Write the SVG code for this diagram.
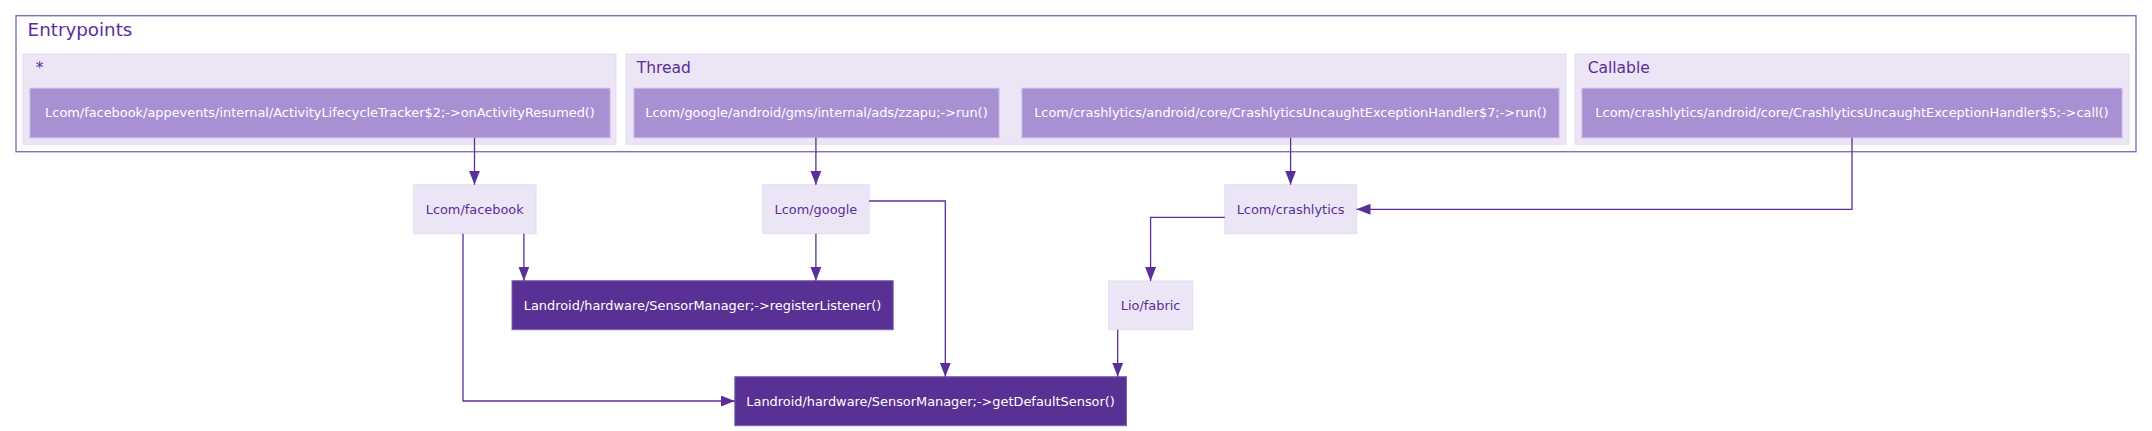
<svg xmlns="http://www.w3.org/2000/svg" width="2152" height="431" viewBox="0 0 2152 431">
<style>
text{font-family:"DejaVu Sans","Liberation Sans",sans-serif;}
.outer{fill:#ffffff;stroke:#8a6cbd;stroke-width:1.4;}
.cluster{fill:#ebe5f5;stroke:#e4dcf2;stroke-width:1;}
.clabel{font-size:15.5px;fill:#5a2e9a;}
.title{font-size:18.3px;fill:#5a2e9a;}
.entry{fill:#a990d3;stroke:#c4b3e3;stroke-width:1;}
.light{fill:#ebe5f5;stroke:#e4dcf2;stroke-width:1;}
.dark{fill:#593093;stroke:#7e5fb4;stroke-width:1;}
.wt{font-size:12.9px;fill:#ffffff;text-anchor:middle;}
.pt{font-size:12.9px;fill:#5a2e9a;text-anchor:middle;}
.edge{fill:none;stroke:#5b2f97;stroke-width:1.3;marker-end:url(#arr);}
</style>
<defs>
<marker id="arr" viewBox="0 0 14 11" refX="14" refY="5.5" markerWidth="14" markerHeight="11" markerUnits="userSpaceOnUse" orient="auto">
<path d="M0,0 L14,5.5 L0,11 z" fill="#5b2f97"/>
</marker>
</defs>
<rect width="2152" height="431" fill="#ffffff"/>
<g id="cluster_entrypoints">
<rect class="outer" x="16" y="15.7" width="2120" height="136"/>
<text class="title" x="27.6" y="35.5">Entrypoints</text>
</g>
<g id="cluster_star">
<rect class="cluster" x="23" y="54" width="593" height="90.3"/>
<text class="clabel" x="35.8" y="72.7">*</text>
</g>
<g id="cluster_thread">
<rect class="cluster" x="626" y="54" width="940" height="90.3"/>
<text class="clabel" x="636.7" y="72.7">Thread</text>
</g>
<g id="cluster_callable">
<rect class="cluster" x="1575" y="54" width="554" height="90.3"/>
<text class="clabel" x="1587.7" y="72.7">Callable</text>
</g>
<g id="node_fb_entry">
<rect class="entry" x="30" y="88.3" width="580" height="49.4"/>
<text class="wt" x="320" y="117">Lcom/facebook/appevents/internal/ActivityLifecycleTracker$2;-&gt;onActivityResumed()</text>
</g>
<g id="node_google_entry">
<rect class="entry" x="634" y="88.3" width="365" height="49.4"/>
<text class="wt" x="816.5" y="117">Lcom/google/android/gms/internal/ads/zzapu;-&gt;run()</text>
</g>
<g id="node_crash7_entry">
<rect class="entry" x="1022" y="88.3" width="537" height="49.4"/>
<text class="wt" x="1290.5" y="117">Lcom/crashlytics/android/core/CrashlyticsUncaughtExceptionHandler$7;-&gt;run()</text>
</g>
<g id="node_crash5_entry">
<rect class="entry" x="1582" y="88.3" width="540" height="49.4"/>
<text class="wt" x="1852" y="117">Lcom/crashlytics/android/core/CrashlyticsUncaughtExceptionHandler$5;-&gt;call()</text>
</g>
<g id="node_facebook">
<rect class="light" x="413.3" y="184.7" width="122.8" height="49"/>
<text class="pt" x="474.7" y="213.6">Lcom/facebook</text>
</g>
<g id="node_google">
<rect class="light" x="762.7" y="184.7" width="106.4" height="49"/>
<text class="pt" x="815.9" y="213.6">Lcom/google</text>
</g>
<g id="node_crashlytics">
<rect class="light" x="1224.8" y="184.7" width="131.7" height="49"/>
<text class="pt" x="1290.6" y="213.6">Lcom/crashlytics</text>
</g>
<g id="node_fabric">
<rect class="light" x="1108.5" y="281" width="84.2" height="48.7"/>
<text class="pt" x="1150.6" y="309.6">Lio/fabric</text>
</g>
<g id="node_register">
<rect class="dark" x="512" y="280.7" width="381.2" height="49"/>
<text class="wt" x="702.6" y="309.6">Landroid/hardware/SensorManager;-&gt;registerListener()</text>
</g>
<g id="node_getdefault">
<rect class="dark" x="734.8" y="376.7" width="391.7" height="49"/>
<text class="wt" x="930.6" y="405.6">Landroid/hardware/SensorManager;-&gt;getDefaultSensor()</text>
</g>
<g id="connectors">
<path class="edge" d="M474.5,137.7 V184.7"/>
<path class="edge" d="M815.9,137.7 V184.7"/>
<path class="edge" d="M1290.6,137.7 V184.7"/>
<path class="edge" d="M1852,137.7 V209.3 H1356.5"/>
<path class="edge" d="M523.9,233.7 V280.7"/>
<path class="edge" d="M815.9,233.7 V280.7"/>
<path class="edge" d="M869.1,201 H945.3 V376.7"/>
<path class="edge" d="M463,233.7 V401 H734.8"/>
<path class="edge" d="M1224.8,217.3 H1150.6 V281"/>
<path class="edge" d="M1117.7,329.7 V376.7"/>
</g>
</svg>
